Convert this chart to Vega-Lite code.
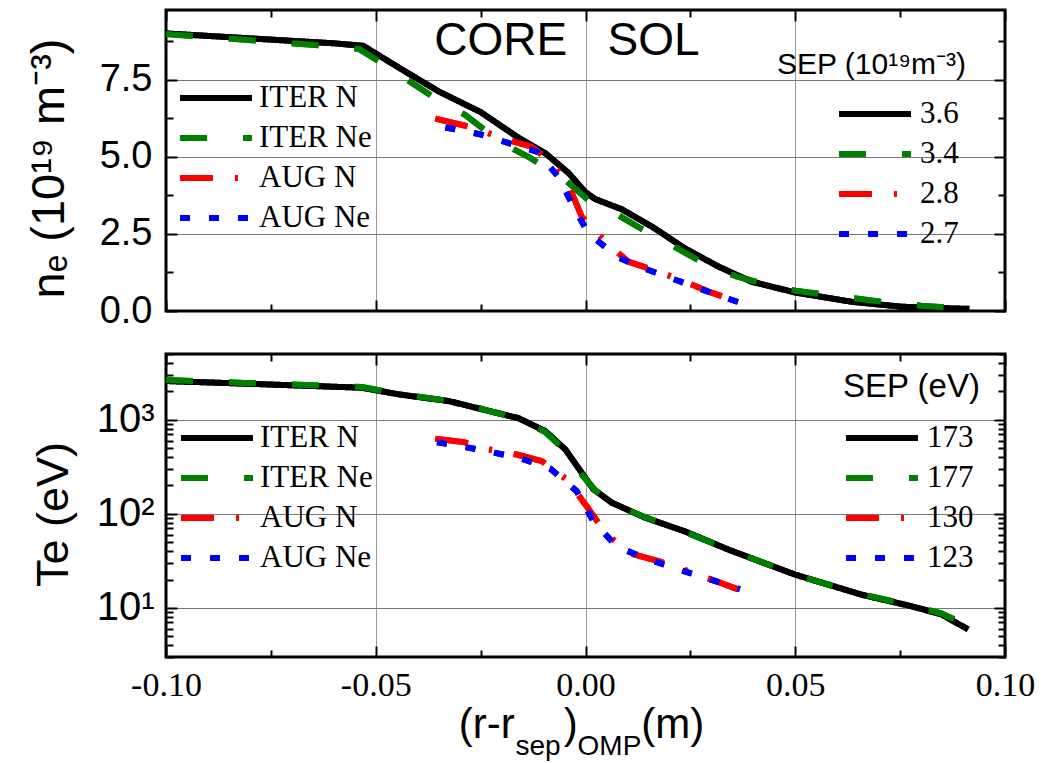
{
  "$schema": "https://vega.github.io/schema/vega-lite/v6.json",
  "background": "white",
  "padding": {"left": 23, "top": 7, "right": 5, "bottom": 2},
  "spacing": 19,
  "config": {
    "view": {"stroke": "black", "strokeWidth": 3},
    "axis": {"domain": false, "tickColor": "black", "tickWidth": 2, "gridColor": "#777", "gridWidth": 1},
    "font": "Liberation Sans"
  },
  "datasets": {
    "ne": [
      {"case": "ITER N", "r": -0.1, "ne": 9.0}, {"case": "ITER N", "r": -0.08, "ne": 8.84}, {"case": "ITER N", "r": -0.06, "ne": 8.68},
      {"case": "ITER N", "r": -0.053, "ne": 8.6}, {"case": "ITER N", "r": -0.044, "ne": 7.85}, {"case": "ITER N", "r": -0.035, "ne": 7.12},
      {"case": "ITER N", "r": -0.025, "ne": 6.45}, {"case": "ITER N", "r": -0.016, "ne": 5.62}, {"case": "ITER N", "r": -0.0096, "ne": 5.12},
      {"case": "ITER N", "r": -0.004, "ne": 4.47}, {"case": "ITER N", "r": 0.0, "ne": 3.85}, {"case": "ITER N", "r": 0.0023, "ne": 3.63},
      {"case": "ITER N", "r": 0.0086, "ne": 3.3}, {"case": "ITER N", "r": 0.0158, "ne": 2.74}, {"case": "ITER N", "r": 0.0237, "ne": 2.03},
      {"case": "ITER N", "r": 0.0317, "ne": 1.44}, {"case": "ITER N", "r": 0.0396, "ne": 0.95}, {"case": "ITER N", "r": 0.05, "ne": 0.6},
      {"case": "ITER N", "r": 0.0634, "ne": 0.3}, {"case": "ITER N", "r": 0.0753, "ne": 0.14}, {"case": "ITER N", "r": 0.085, "ne": 0.09},
      {"case": "ITER N", "r": 0.0915, "ne": 0.07},
      {"case": "ITER Ne", "r": -0.1, "ne": 8.98}, {"case": "ITER Ne", "r": -0.0767, "ne": 8.75}, {"case": "ITER Ne", "r": -0.0616, "ne": 8.6},
      {"case": "ITER Ne", "r": -0.054, "ne": 8.5}, {"case": "ITER Ne", "r": -0.047, "ne": 7.9}, {"case": "ITER Ne", "r": -0.0358, "ne": 6.9},
      {"case": "ITER Ne", "r": -0.0287, "ne": 6.36}, {"case": "ITER Ne", "r": -0.0199, "ne": 5.44}, {"case": "ITER Ne", "r": -0.0136, "ne": 5.0},
      {"case": "ITER Ne", "r": -0.0048, "ne": 4.25}, {"case": "ITER Ne", "r": 0.0015, "ne": 3.5}, {"case": "ITER Ne", "r": 0.006, "ne": 3.25},
      {"case": "ITER Ne", "r": 0.0134, "ne": 2.66}, {"case": "ITER Ne", "r": 0.02, "ne": 2.18}, {"case": "ITER Ne", "r": 0.0285, "ne": 1.52},
      {"case": "ITER Ne", "r": 0.036, "ne": 1.12}, {"case": "ITER Ne", "r": 0.0436, "ne": 0.84}, {"case": "ITER Ne", "r": 0.05, "ne": 0.66},
      {"case": "ITER Ne", "r": 0.0587, "ne": 0.5}, {"case": "ITER Ne", "r": 0.0737, "ne": 0.25}, {"case": "ITER Ne", "r": 0.08, "ne": 0.17},
      {"case": "ITER Ne", "r": 0.0916, "ne": 0.07},
      {"case": "AUG N", "r": -0.0358, "ne": 6.24}, {"case": "AUG N", "r": -0.0263, "ne": 5.93}, {"case": "AUG N", "r": -0.0199, "ne": 5.6},
      {"case": "AUG N", "r": -0.0128, "ne": 5.33}, {"case": "AUG N", "r": -0.0076, "ne": 4.77}, {"case": "AUG N", "r": -0.0036, "ne": 3.93},
      {"case": "AUG N", "r": -0.0009, "ne": 3.06}, {"case": "AUG N", "r": 0.0047, "ne": 2.25}, {"case": "AUG N", "r": 0.0102, "ne": 1.6},
      {"case": "AUG N", "r": 0.0174, "ne": 1.28}, {"case": "AUG N", "r": 0.0233, "ne": 0.97}, {"case": "AUG N", "r": 0.0293, "ne": 0.63},
      {"case": "AUG N", "r": 0.0364, "ne": 0.3},
      {"case": "AUG Ne", "r": -0.0334, "ne": 5.95}, {"case": "AUG Ne", "r": -0.0255, "ne": 5.74}, {"case": "AUG Ne", "r": -0.0187, "ne": 5.46},
      {"case": "AUG Ne", "r": -0.0116, "ne": 5.17}, {"case": "AUG Ne", "r": -0.0064, "ne": 4.34}, {"case": "AUG Ne", "r": -0.0029, "ne": 3.39},
      {"case": "AUG Ne", "r": 0.0007, "ne": 2.52}, {"case": "AUG Ne", "r": 0.0077, "ne": 1.74}, {"case": "AUG Ne", "r": 0.015, "ne": 1.33},
      {"case": "AUG Ne", "r": 0.0221, "ne": 0.98}, {"case": "AUG Ne", "r": 0.0285, "ne": 0.66}, {"case": "AUG Ne", "r": 0.0368, "ne": 0.27}
    ],
    "te": [
      {"case": "ITER N", "r": -0.1, "te": 2580}, {"case": "ITER N", "r": -0.08, "te": 2410}, {"case": "ITER N", "r": -0.0533, "te": 2190},
      {"case": "ITER N", "r": -0.0445, "te": 1860}, {"case": "ITER N", "r": -0.0326, "te": 1580}, {"case": "ITER N", "r": -0.0246, "te": 1290},
      {"case": "ITER N", "r": -0.016, "te": 1040}, {"case": "ITER N", "r": -0.0096, "te": 757}, {"case": "ITER N", "r": -0.0048, "te": 483},
      {"case": "ITER N", "r": -0.0009, "te": 273}, {"case": "ITER N", "r": 0.0019, "te": 182}, {"case": "ITER N", "r": 0.0063, "te": 131},
      {"case": "ITER N", "r": 0.0142, "te": 91}, {"case": "ITER N", "r": 0.0237, "te": 65}, {"case": "ITER N", "r": 0.034, "te": 41.7},
      {"case": "ITER N", "r": 0.0499, "te": 22.6}, {"case": "ITER N", "r": 0.0658, "te": 13.8}, {"case": "ITER N", "r": 0.0777, "te": 10.4},
      {"case": "ITER N", "r": 0.0849, "te": 8.5}, {"case": "ITER N", "r": 0.0912, "te": 5.9},
      {"case": "ITER Ne", "r": -0.1, "te": 2650}, {"case": "ITER Ne", "r": -0.08, "te": 2450}, {"case": "ITER Ne", "r": -0.0533, "te": 2230},
      {"case": "ITER Ne", "r": -0.0445, "te": 1880}, {"case": "ITER Ne", "r": -0.0326, "te": 1590}, {"case": "ITER Ne", "r": -0.0246, "te": 1300},
      {"case": "ITER Ne", "r": -0.016, "te": 1020}, {"case": "ITER Ne", "r": -0.0096, "te": 740}, {"case": "ITER Ne", "r": -0.0048, "te": 470},
      {"case": "ITER Ne", "r": -0.0009, "te": 262}, {"case": "ITER Ne", "r": 0.0023, "te": 178}, {"case": "ITER Ne", "r": 0.0063, "te": 130},
      {"case": "ITER Ne", "r": 0.0142, "te": 92}, {"case": "ITER Ne", "r": 0.0237, "te": 64}, {"case": "ITER Ne", "r": 0.034, "te": 42},
      {"case": "ITER Ne", "r": 0.0499, "te": 22.5}, {"case": "ITER Ne", "r": 0.0658, "te": 13.9}, {"case": "ITER Ne", "r": 0.0777, "te": 10.6},
      {"case": "ITER Ne", "r": 0.0849, "te": 8.7}, {"case": "ITER Ne", "r": 0.0916, "te": 6.3},
      {"case": "AUG N", "r": -0.0358, "te": 628}, {"case": "AUG N", "r": -0.029, "te": 578}, {"case": "AUG N", "r": -0.0231, "te": 483},
      {"case": "AUG N", "r": -0.0164, "te": 427}, {"case": "AUG N", "r": -0.0104, "te": 363}, {"case": "AUG N", "r": -0.0045, "te": 232},
      {"case": "AUG N", "r": 0.0003, "te": 120}, {"case": "AUG N", "r": 0.0047, "te": 63}, {"case": "AUG N", "r": 0.0102, "te": 38.5},
      {"case": "AUG N", "r": 0.0174, "te": 31.3}, {"case": "AUG N", "r": 0.0233, "te": 25.6}, {"case": "AUG N", "r": 0.03, "te": 20},
      {"case": "AUG N", "r": 0.0364, "te": 15.7},
      {"case": "AUG Ne", "r": -0.0354, "te": 577}, {"case": "AUG Ne", "r": -0.029, "te": 516}, {"case": "AUG Ne", "r": -0.0223, "te": 452},
      {"case": "AUG Ne", "r": -0.0152, "te": 385}, {"case": "AUG Ne", "r": -0.0084, "te": 302}, {"case": "AUG Ne", "r": -0.0021, "te": 174},
      {"case": "AUG Ne", "r": 0.0019, "te": 83}, {"case": "AUG Ne", "r": 0.0075, "te": 44.5}, {"case": "AUG Ne", "r": 0.015, "te": 32.7},
      {"case": "AUG Ne", "r": 0.0217, "te": 26}, {"case": "AUG Ne", "r": 0.0285, "te": 20.9}, {"case": "AUG Ne", "r": 0.0368, "te": 15.8}
    ],
    "separatrix": [
      {"case": "ITER N", "ne_sep": 3.6, "te_sep": 173},
      {"case": "ITER Ne", "ne_sep": 3.4, "te_sep": 177},
      {"case": "AUG N", "ne_sep": 2.8, "te_sep": 130},
      {"case": "AUG Ne", "ne_sep": 2.7, "te_sep": 123}
    ],
    "regions": [
      {"label": "CORE", "r": -0.0202, "ne": 8.31},
      {"label": "SOL", "r": 0.0162, "ne": 8.31}
    ],
    "xtitle_main": [
      {"piece": "(r-r", "r": -0.0302, "te": 0.414},
      {"piece": ")", "r": -0.0052, "te": 0.414},
      {"piece": "(m)", "r": 0.0133, "te": 0.414}
    ],
    "xtitle_sub": [
      {"piece": "sep", "r": -0.0167, "te": 0.27},
      {"piece": "OMP", "r": -0.0019, "te": 0.27}
    ]
  },
  "vconcat": [
    {
      "width": 839,
      "height": 301,
      "layer": [
        {
          "data": {"name": "ne"},
          "mark": {"type": "line", "strokeWidth": 6, "strokeCap": "butt", "strokeJoin": "round"},
          "encoding": {
            "x": {
              "field": "r", "type": "quantitative",
              "scale": {"domain": [-0.1, 0.1], "nice": false, "zero": false},
              "axis": {
                "orient": "bottom", "values": [-0.1, -0.075, -0.05, -0.025, 0, 0.025, 0.05, 0.075, 0.1],
                "labels": false, "title": null,
                "tickSize": {"condition": {"test": "abs(datum.value*20-round(datum.value*20))<1e-6", "value": -11}, "value": -7},
                "grid": true, "gridDash": [1, 1], "gridColor": "#333",
                "gridOpacity": {"condition": {"test": "abs(datum.value)<0.09 && abs(datum.value*20-round(datum.value*20))<1e-6", "value": 1}, "value": 0}
              }
            },
            "y": {
              "field": "ne", "type": "quantitative",
              "scale": {"domain": [0, 9.76], "nice": false, "zero": false},
              "axis": {
                "orient": "left", "values": [0, 1.25, 2.5, 3.75, 5, 6.25, 7.5, 8.75],
                "labelExpr": "abs(datum.value/2.5-round(datum.value/2.5))<1e-6 ? format(datum.value, '.1f') : ''",
                "labelFont": "Liberation Sans", "labelFontSize": 38, "labelColor": "black", "labelPadding": 25,
                "tickSize": {"condition": {"test": "abs(datum.value/2.5-round(datum.value/2.5))<1e-6", "value": -11}, "value": -7},
                "grid": true,
                "gridOpacity": {"condition": {"test": "datum.value>0 && abs(datum.value/2.5-round(datum.value/2.5))<1e-6", "value": 1}, "value": 0},
                "title": "nₑ (10¹⁹ m⁻³)", "titleFont": "Liberation Sans", "titleFontSize": 47, "titleFontWeight": "normal",
                "titleColor": "black", "titlePadding": 26, "titleY": 158
              }
            },
            "color": {
              "field": "case", "type": "nominal",
              "scale": {"domain": ["ITER N", "ITER Ne", "AUG N", "AUG Ne"], "range": ["#000000", "#008000", "#ff0000", "#0000ff"]},
              "legend": {
                "title": null, "orient": "none", "legendX": 11, "legendY": 68, "padding": 0,
                "symbolType": "stroke", "symbolSize": 5184, "symbolStrokeWidth": 6,
                "labelFont": "Liberation Serif", "labelFontSize": 31, "labelColor": "black", "labelOffset": 4, "labelLimit": 400,
                "labelExpr": "indexof(datum.label, 'AUG') == 0 ? '\u00a0' + datum.label : datum.label",
                "clipHeight": 40, "rowPadding": 0
              }
            },
            "strokeDash": {
              "field": "case", "type": "nominal",
              "scale": {"domain": ["ITER N", "ITER Ne", "AUG N", "AUG Ne"], "range": [[1, 0], [27, 36], [33, 22, 3, 22], [10, 19]]},
              "legend": {
                "title": null, "orient": "none", "legendX": 11, "legendY": 68, "padding": 0,
                "symbolType": "stroke", "symbolSize": 5184, "symbolStrokeWidth": 6,
                "labelFont": "Liberation Serif", "labelFontSize": 31, "labelColor": "black", "labelOffset": 4, "labelLimit": 400,
                "labelExpr": "indexof(datum.label, 'AUG') == 0 ? '\u00a0' + datum.label : datum.label",
                "clipHeight": 40, "rowPadding": 0
              }
            }
          }
        },
        {
          "data": {"name": "ne"},
          "transform": [
            {"lookup": "case", "from": {"data": {"name": "separatrix"}, "key": "case", "fields": ["ne_sep"]}}
          ],
          "mark": {"type": "line", "strokeWidth": 6, "strokeCap": "butt", "strokeJoin": "round"},
          "encoding": {
            "x": {
              "field": "r", "type": "quantitative",
              "scale": {"domain": [-0.1, 0.1], "nice": false, "zero": false},
              "axis": {
                "orient": "top", "values": [-0.1, -0.075, -0.05, -0.025, 0, 0.025, 0.05, 0.075, 0.1],
                "labels": false, "title": null, "grid": false,
                "tickSize": {"condition": {"test": "abs(datum.value*20-round(datum.value*20))<1e-6", "value": -11}, "value": -7}
              }
            },
            "y": {
              "field": "ne", "type": "quantitative",
              "scale": {"domain": [0, 9.76], "nice": false, "zero": false},
              "axis": {
                "orient": "right", "values": [0, 1.25, 2.5, 3.75, 5, 6.25, 7.5, 8.75],
                "labels": false, "title": null, "grid": false,
                "tickSize": {"condition": {"test": "abs(datum.value/2.5-round(datum.value/2.5))<1e-6", "value": -11}, "value": -7}
              }
            },
            "color": {
              "field": "ne_sep", "type": "nominal",
              "scale": {"domain": [3.6, 3.4, 2.8, 2.7], "range": ["#000000", "#008000", "#ff0000", "#0000ff"]},
              "legend": {
                "title": "SEP (10¹⁹m⁻³)", "orient": "none", "legendX": 611, "legendY": 40, "padding": 0,
                "titleFont": "Liberation Sans", "titleFontSize": 30, "titleFontWeight": "normal", "titleColor": "black", "titlePadding": 14, "titleLimit": 400,
                "symbolType": "stroke", "symbolSize": 5184, "symbolStrokeWidth": 6, "symbolOffset": 59,
                "labelFont": "Liberation Serif", "labelFontSize": 31, "labelColor": "black", "labelOffset": 6,
                "clipHeight": 40, "rowPadding": 0
              }
            },
            "strokeDash": {
              "field": "ne_sep", "type": "nominal",
              "scale": {"domain": [3.6, 3.4, 2.8, 2.7], "range": [[1, 0], [27, 36], [33, 22, 3, 22], [10, 19]]},
              "legend": {
                "title": "SEP (10¹⁹m⁻³)", "orient": "none", "legendX": 611, "legendY": 40, "padding": 0,
                "titleFont": "Liberation Sans", "titleFontSize": 30, "titleFontWeight": "normal", "titleColor": "black", "titlePadding": 14, "titleLimit": 400,
                "symbolType": "stroke", "symbolSize": 5184, "symbolStrokeWidth": 6, "symbolOffset": 59,
                "labelFont": "Liberation Serif", "labelFontSize": 31, "labelColor": "black", "labelOffset": 6,
                "clipHeight": 40, "rowPadding": 0
              }
            }
          }
        },
        {
          "data": {"name": "regions"},
          "mark": {"type": "text", "font": "Liberation Sans", "fontSize": 46, "align": "center", "baseline": "alphabetic", "color": "black"},
          "encoding": {
            "x": {"field": "r", "type": "quantitative", "scale": {"domain": [-0.1, 0.1], "nice": false, "zero": false}, "axis": null},
            "y": {"field": "ne", "type": "quantitative", "scale": {"domain": [0, 9.76], "nice": false, "zero": false}, "axis": null},
            "text": {"field": "label"}
          }
        }
      ],
      "resolve": {
        "scale": {"color": "independent", "strokeDash": "independent"},
        "axis": {"x": "independent", "y": "independent"}
      }
    },
    {
      "width": 839,
      "height": 303,
      "layer": [
        {
          "data": {"name": "te"},
          "mark": {"type": "line", "strokeWidth": 6, "strokeCap": "butt", "strokeJoin": "round"},
          "encoding": {
            "x": {
              "field": "r", "type": "quantitative",
              "scale": {"domain": [-0.1, 0.1], "nice": false, "zero": false},
              "axis": {
                "orient": "bottom", "values": [-0.1, -0.075, -0.05, -0.025, 0, 0.025, 0.05, 0.075, 0.1],
                "labelExpr": "abs(datum.value*20-round(datum.value*20))<1e-6 ? (datum.value < -1e-9 ? '-' : '') + format(abs(datum.value), '.2f') : ''",
                "labelFont": "Liberation Serif", "labelFontSize": 34, "labelColor": "black", "labelPadding": 22, "labelFlush": false,
                "title": null,
                "tickSize": {"condition": {"test": "abs(datum.value*20-round(datum.value*20))<1e-6", "value": -11}, "value": -7},
                "grid": true, "gridDash": [1, 1], "gridColor": "#333",
                "gridOpacity": {"condition": {"test": "abs(datum.value)<0.09 && abs(datum.value*20-round(datum.value*20))<1e-6", "value": 1}, "value": 0}
              }
            },
            "y": {
              "field": "te", "type": "quantitative",
              "scale": {"type": "log", "domain": [3, 5000], "nice": false},
              "axis": {
                "orient": "left",
                "values": [3, 4, 5, 6, 7, 8, 9, 10, 20, 30, 40, 50, 60, 70, 80, 90, 100, 200, 300, 400, 500, 600, 700, 800, 900, 1000, 2000, 3000, 4000, 5000],
                "labelExpr": "datum.value == 10 ? '10¹' : datum.value == 100 ? '10²' : datum.value == 1000 ? '10³' : ''",
                "labelFont": "Liberation Sans", "labelFontSize": 40, "labelColor": "black", "labelPadding": 23,
                "tickSize": {"condition": {"test": "datum.value == 10 || datum.value == 100 || datum.value == 1000", "value": -11}, "value": -7},
                "grid": true,
                "gridOpacity": {"condition": {"test": "datum.value == 10 || datum.value == 100 || datum.value == 1000", "value": 1}, "value": 0},
                "title": "Te (eV)", "titleFont": "Liberation Sans", "titleFontSize": 45, "titleFontWeight": "normal",
                "titleColor": "black", "titlePadding": 20, "titleY": 160
              }
            },
            "color": {
              "field": "case", "type": "nominal",
              "scale": {"domain": ["ITER N", "ITER Ne", "AUG N", "AUG Ne"], "range": ["#000000", "#008000", "#ff0000", "#0000ff"]},
              "legend": {
                "title": null, "orient": "none", "legendX": 12, "legendY": 64, "padding": 0,
                "symbolType": "stroke", "symbolSize": 5184, "symbolStrokeWidth": 6,
                "labelFont": "Liberation Serif", "labelFontSize": 31, "labelColor": "black", "labelOffset": 4, "labelLimit": 400,
                "labelExpr": "indexof(datum.label, 'AUG') == 0 ? '\u00a0' + datum.label : datum.label",
                "clipHeight": 40, "rowPadding": 0
              }
            },
            "strokeDash": {
              "field": "case", "type": "nominal",
              "scale": {"domain": ["ITER N", "ITER Ne", "AUG N", "AUG Ne"], "range": [[1, 0], [27, 36], [33, 22, 3, 22], [10, 19]]},
              "legend": {
                "title": null, "orient": "none", "legendX": 12, "legendY": 64, "padding": 0,
                "symbolType": "stroke", "symbolSize": 5184, "symbolStrokeWidth": 6,
                "labelFont": "Liberation Serif", "labelFontSize": 31, "labelColor": "black", "labelOffset": 4, "labelLimit": 400,
                "labelExpr": "indexof(datum.label, 'AUG') == 0 ? '\u00a0' + datum.label : datum.label",
                "clipHeight": 40, "rowPadding": 0
              }
            }
          }
        },
        {
          "data": {"name": "te"},
          "transform": [
            {"lookup": "case", "from": {"data": {"name": "separatrix"}, "key": "case", "fields": ["te_sep"]}}
          ],
          "mark": {"type": "line", "strokeWidth": 6, "strokeCap": "butt", "strokeJoin": "round"},
          "encoding": {
            "x": {
              "field": "r", "type": "quantitative",
              "scale": {"domain": [-0.1, 0.1], "nice": false, "zero": false},
              "axis": {
                "orient": "top", "values": [-0.1, -0.075, -0.05, -0.025, 0, 0.025, 0.05, 0.075, 0.1],
                "labels": false, "title": null, "grid": false,
                "tickSize": {"condition": {"test": "abs(datum.value*20-round(datum.value*20))<1e-6", "value": -11}, "value": -7}
              }
            },
            "y": {
              "field": "te", "type": "quantitative",
              "scale": {"type": "log", "domain": [3, 5000], "nice": false},
              "axis": {
                "orient": "right",
                "values": [3, 4, 5, 6, 7, 8, 9, 10, 20, 30, 40, 50, 60, 70, 80, 90, 100, 200, 300, 400, 500, 600, 700, 800, 900, 1000, 2000, 3000, 4000, 5000],
                "labels": false, "title": null, "grid": false,
                "tickSize": {"condition": {"test": "datum.value == 10 || datum.value == 100 || datum.value == 1000", "value": -11}, "value": -7}
              }
            },
            "color": {
              "field": "te_sep", "type": "nominal",
              "scale": {"domain": [173, 177, 130, 123], "range": ["#000000", "#008000", "#ff0000", "#0000ff"]},
              "legend": {
                "title": "SEP (eV)", "orient": "none", "legendX": 677, "legendY": 17, "padding": 0,
                "titleFont": "Liberation Sans", "titleFontSize": 33, "titleFontWeight": "normal", "titleColor": "black", "titlePadding": 14, "titleLimit": 400,
                "symbolType": "stroke", "symbolSize": 5184, "symbolStrokeWidth": 6,
                "labelFont": "Liberation Serif", "labelFontSize": 31, "labelColor": "black", "labelOffset": 6,
                "clipHeight": 40, "rowPadding": 0
              }
            },
            "strokeDash": {
              "field": "te_sep", "type": "nominal",
              "scale": {"domain": [173, 177, 130, 123], "range": [[1, 0], [27, 36], [33, 22, 3, 22], [10, 19]]},
              "legend": {
                "title": "SEP (eV)", "orient": "none", "legendX": 677, "legendY": 17, "padding": 0,
                "titleFont": "Liberation Sans", "titleFontSize": 33, "titleFontWeight": "normal", "titleColor": "black", "titlePadding": 14, "titleLimit": 400,
                "symbolType": "stroke", "symbolSize": 5184, "symbolStrokeWidth": 6,
                "labelFont": "Liberation Serif", "labelFontSize": 31, "labelColor": "black", "labelOffset": 6,
                "clipHeight": 40, "rowPadding": 0
              }
            }
          }
        },
        {
          "data": {"name": "xtitle_main"},
          "mark": {"type": "text", "font": "Liberation Sans", "fontSize": 42, "align": "left", "baseline": "alphabetic", "color": "black"},
          "encoding": {
            "x": {"field": "r", "type": "quantitative", "scale": {"domain": [-0.1, 0.1], "nice": false, "zero": false}, "axis": null},
            "y": {"field": "te", "type": "quantitative", "scale": {"type": "log", "domain": [3, 5000], "nice": false}, "axis": null},
            "text": {"field": "piece"}
          }
        },
        {
          "data": {"name": "xtitle_sub"},
          "mark": {"type": "text", "font": "Liberation Sans", "fontSize": 28, "align": "left", "baseline": "alphabetic", "color": "black"},
          "encoding": {
            "x": {"field": "r", "type": "quantitative", "scale": {"domain": [-0.1, 0.1], "nice": false, "zero": false}, "axis": null},
            "y": {"field": "te", "type": "quantitative", "scale": {"type": "log", "domain": [3, 5000], "nice": false}, "axis": null},
            "text": {"field": "piece"}
          }
        }
      ],
      "resolve": {
        "scale": {"color": "independent", "strokeDash": "independent"},
        "axis": {"x": "independent", "y": "independent"}
      }
    }
  ]
}
